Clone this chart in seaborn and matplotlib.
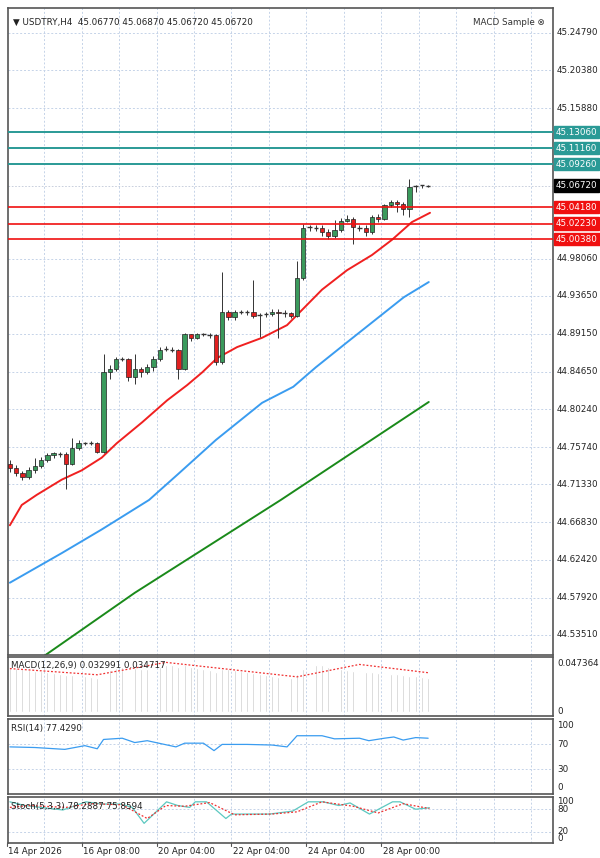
import numpy as np
import pandas as pd
import matplotlib
matplotlib.use('Agg')
import matplotlib.pyplot as plt
import seaborn as sns

# ---- data ----
first_open = 44.738
closes = [44.733, 44.727, 44.722, 44.730, 44.735, 44.742, 44.748, 44.750, 44.749, 44.738,
          44.757, 44.762, 44.762, 44.763, 44.752, 44.847, 44.850, 44.862, 44.862, 44.840,
          44.850, 44.846, 44.852, 44.862, 44.873, 44.874, 44.873, 44.850, 44.891, 44.887,
          44.891, 44.891, 44.890, 44.858, 44.918, 44.912, 44.918, 44.918, 44.917, 44.913,
          44.914, 44.915, 44.918, 44.916, 44.916, 44.913, 44.958, 45.017, 45.018, 45.017,
          45.012, 45.008, 45.015, 45.025, 45.028, 45.018, 45.017, 45.012, 45.030, 45.028,
          45.044, 45.048, 45.046, 45.040, 45.066, 45.067, 45.0675, 45.0672]
highs = [44.742, 44.736, 44.729, 44.734, 44.745, 44.746, 44.751, 44.752, 44.752, 44.752,
         44.768, 44.766, 44.764, 44.765, 44.764, 44.868, 44.855, 44.864, 44.864, 44.863,
         44.868, 44.852, 44.856, 44.866, 44.876, 44.877, 44.876, 44.874, 44.893, 44.892,
         44.893, 44.893, 44.893, 44.891, 44.965, 44.920, 44.920, 44.920, 44.920, 44.955,
         44.916, 44.918, 44.921, 44.921, 44.920, 44.917, 44.978, 45.022, 45.020, 45.020,
         45.020, 45.016, 45.027, 45.029, 45.032, 45.030, 45.020, 45.020, 45.032, 45.033,
         45.046, 45.050, 45.050, 45.048, 45.075, 45.068, 45.068, 45.068]
lows = [44.728, 44.723, 44.719, 44.720, 44.727, 44.733, 44.740, 44.745, 44.746, 44.708,
        44.736, 44.754, 44.760, 44.760, 44.750, 44.750, 44.838, 44.848, 44.860, 44.836,
        44.832, 44.840, 44.844, 44.848, 44.860, 44.871, 44.870, 44.838, 44.849, 44.883,
        44.885, 44.889, 44.887, 44.855, 44.856, 44.908, 44.908, 44.915, 44.914, 44.911,
        44.888, 44.912, 44.913, 44.887, 44.912, 44.910, 44.912, 44.956, 45.014, 45.013,
        45.008, 45.004, 45.005, 45.012, 45.024, 44.998, 45.014, 45.008, 45.010, 45.024,
        45.026, 45.042, 45.036, 45.032, 45.030, 45.060, 45.064, 45.066]

ma_red_i = [0, 1.9, 4.3, 8.3, 11.5, 14.7, 17.1, 21.2, 25.2, 28.4, 30.8, 33.2, 36.4, 40.4,
            44.4, 46.8, 50, 54, 58, 61.2, 64.4, 67.3]
ma_red_v = [44.665, 44.689, 44.701, 44.719, 44.730, 44.745, 44.762, 44.787, 44.813, 44.831,
            44.846, 44.863, 44.876, 44.887, 44.902, 44.920, 44.944, 44.967, 44.985, 45.003,
            45.024, 45.035]
ma_blue_i = [0, 8.3, 14.7, 22.3, 27, 33, 40.4, 45.4, 49, 53.9, 58.5, 63.1, 67.1]
ma_blue_v = [44.597, 44.632, 44.660, 44.695, 44.726, 44.766, 44.810, 44.829, 44.852, 44.881,
             44.908, 44.935, 44.953]
ma_green_i = [3.5, 20, 43.4, 67.1]
ma_green_v = [44.500, 44.585, 44.695, 44.811]

teal_levels = [45.1306, 45.1116, 45.0926]
red_levels = [45.0418, 45.0223, 45.0038]
last_price = 45.0672
price_ticks = [45.24790, 45.20380, 45.15880, 44.98060, 44.93650, 44.89150, 44.84650,
               44.80240, 44.75740, 44.71330, 44.66830, 44.62420, 44.57920, 44.53510]

macd_hist = [0.044, 0.043, 0.042, 0.041, 0.040, 0.040, 0.039, 0.038, 0.037, 0.036, 0.036,
             0.035, 0.035, 0.034, 0.033,
             0.038, 0.041, 0.043, 0.044, 0.043, 0.043, 0.042, 0.042, 0.043, 0.044, 0.045,
             0.045, 0.044,
             0.045, 0.044, 0.043, 0.042, 0.041, 0.039,
             0.042, 0.042, 0.041, 0.040, 0.039, 0.038, 0.037, 0.036, 0.035, 0.034, 0.034, 0.033,
             0.037, 0.042, 0.044, 0.045, 0.045, 0.044, 0.043, 0.042, 0.041, 0.040,
             0.040, 0.039, 0.039, 0.038, 0.038, 0.037, 0.037, 0.036, 0.035, 0.035, 0.034, 0.033]
macd_sig_i = [0, 14, 25, 46, 56, 67]
macd_sig_v = [0.042, 0.036, 0.048, 0.034, 0.046, 0.038]

rsi_i = [0, 4, 8.8, 12, 14, 15, 18, 20, 22, 26.6, 28, 31, 32.7, 34, 38, 42, 44.4, 46,
         50, 52, 56, 57.5, 60, 61.5, 63, 65, 67]
rsi_v = [66, 65, 62, 68, 63, 78, 80, 73, 76, 66, 72, 72, 60, 70, 70, 69, 66, 84,
         84, 79, 80, 76, 80, 82, 77, 81, 80]

stoch_i = [0, 2.4, 8.5, 12.2, 14.7, 17.7, 19.6, 21.5, 25.1, 26.9, 28.8, 29.7, 31.5, 34.6,
           35.5, 41.6, 45.3, 47.8, 50.2, 52.7, 54.5, 57.6, 61.3, 62.5, 65, 67.2]
stoch_v = [100, 90, 78, 100, 94, 94, 85, 42, 100, 90, 85, 100, 100, 55,
           67, 67, 75, 100, 100, 90, 97, 67, 100, 100, 80, 84]
stsig_i = [0, 3, 9, 13, 18, 22, 25, 28, 32, 36, 42, 46, 50, 55, 59, 63, 67.2]
stsig_v = [85, 90, 85, 95, 92, 55, 90, 88, 98, 65, 67, 73, 100, 88, 70, 95, 82]

date_labels = ["14 Apr 2026", "16 Apr 08:00", "20 Apr 04:00", "22 Apr 04:00",
               "24 Apr 04:00", "28 Apr 00:00"]

# ---- layout ----
sns.set_style("white")
plt.rcParams['font.family'] = ['DejaVu Sans']
W, H = 600, 858
fig = plt.figure(figsize=(6, 8.58), dpi=100)

def pax(x0, y0, x1, y1):
    ax = fig.add_axes([x0 / W, 1 - y1 / H, (x1 - x0) / W, (y1 - y0) / H])
    for s in ax.spines.values():
        s.set_color('#555555')
        s.set_linewidth(1.2)
    ax.set_xticks([])
    ax.set_yticks([])
    return ax

XL = (-0.3, 87.0)
grid_x = [-0.5 + 6 * k for k in range(1, 15)]
grid_kw = dict(color='#c5d3e8', lw=0.7, ls=(0, (2, 2)), zorder=0)
fs = 6.3

ax = pax(8, 8, 553, 655)
ax.set_xlim(*XL)
ax.set_ylim(44.5114, 45.2775)
for g in grid_x:
    ax.axvline(g, **grid_kw)
for p in price_ticks:
    ax.axhline(p, **grid_kw)
    fig.text(557 / W, ax.transData.transform((0, p))[1] / H, "%.5f" % p,
             fontsize=fs, va='center', ha='left', color='#222222')

df = pd.DataFrame({'c': closes, 'h': highs, 'l': lows})
df['o'] = [first_open] + closes[:-1]
df['i'] = np.arange(len(df))
ax.vlines(df['i'], df['l'], df['h'], color='#333333', lw=0.7, zorder=3)
for _, r in df.iterrows():
    up = r['c'] >= r['o']
    body = abs(r['c'] - r['o'])
    if body < 0.0012:
        ax.hlines(r['c'], r['i'] - 0.35, r['i'] + 0.35, color='#333333', lw=1.0, zorder=4)
    else:
        ax.bar(r['i'], body, bottom=min(r['o'], r['c']), width=0.7,
               color='#3a9a5c' if up else '#e02020', edgecolor='#222222', lw=0.5, zorder=4)

sns.lineplot(x=ma_red_i, y=ma_red_v, ax=ax, color='#f02020', lw=1.4, zorder=2)
sns.lineplot(x=ma_blue_i, y=ma_blue_v, ax=ax, color='#3a9cf0', lw=1.4, zorder=2)
sns.lineplot(x=ma_green_i, y=ma_green_v, ax=ax, color='#1a8a1a', lw=1.4, zorder=2)

def tag(p, fc, tc='white'):
    y = ax.transData.transform((0, p))[1] / H
    fig.text(556 / W, y, "%.5f" % p, fontsize=fs, va='center', ha='left', color=tc,
             bbox=dict(boxstyle='square,pad=0.2', fc=fc, ec=fc))

for p in teal_levels:
    ax.axhline(p, color='#2a9a96', lw=1.4, zorder=5)
    tag(p, '#2a9a96')
for p in red_levels:
    ax.axhline(p, color='#f01010', lw=1.2, zorder=5)
    tag(p, '#f01010')
ax.axhline(last_price, color='#c0c8d8', lw=0.6, ls=(0, (2, 2)), zorder=1)
tag(last_price, 'black')

ax.text(0.01, 0.985, "\u25BC USDTRY,H4  45.06770 45.06870 45.06720 45.06720", transform=ax.transAxes,
        fontsize=fs, va='top', ha='left', color='#222222')
ax.text(0.985, 0.985, "MACD Sample \u2297", transform=ax.transAxes, fontsize=fs,
        va='top', ha='right', color='#333333')

# MACD
ax2 = pax(8, 657, 553, 716)
ax2.set_xlim(*XL)
ax2.set_ylim(-0.0039, 0.0532)
for g in grid_x:
    ax2.axvline(g, **grid_kw)
ax2.bar(np.arange(len(macd_hist)), macd_hist, width=0.3, color='#c8c8c8', zorder=2)
sns.lineplot(x=macd_sig_i, y=macd_sig_v, ax=ax2, color='#f03030', lw=0.9,
             ls=(0, (1.5, 1.5)), zorder=3)
ax2.text(0.005, 0.93, "MACD(12,26,9) 0.032991 0.034717", transform=ax2.transAxes,
         fontsize=fs, va='top', ha='left', color='#222222')
for v, t in [(0.047364, "0.047364"), (0, "0")]:
    fig.text(557 / W, ax2.transData.transform((0, v))[1] / H, t, fontsize=fs,
             va='center', ha='left', color='#222222')

# RSI
ax3 = pax(8, 719, 553, 794)
ax3.set_xlim(*XL)
ax3.set_ylim(-10, 111)
for g in grid_x:
    ax3.axvline(g, **grid_kw)
for v in [70, 30]:
    ax3.axhline(v, **grid_kw)
sns.lineplot(x=rsi_i, y=rsi_v, ax=ax3, color='#3a9cf0', lw=0.9)
ax3.text(0.005, 0.93, "RSI(14) 77.4290", transform=ax3.transAxes, fontsize=fs,
         va='top', ha='left', color='#222222')
for v in [100, 70, 30, 0]:
    fig.text(557 / W, ax3.transData.transform((0, v))[1] / H, str(v), fontsize=fs,
             va='center', ha='left', color='#222222')

# Stochastic
ax4 = pax(8, 797, 553, 843)
ax4.set_xlim(*XL)
ax4.set_ylim(-11, 113)
for g in grid_x:
    ax4.axvline(g, **grid_kw)
for v in [80, 20]:
    ax4.axhline(v, **grid_kw)
sns.lineplot(x=stoch_i, y=stoch_v, ax=ax4, color='#5cc8c0', lw=0.9)
sns.lineplot(x=stsig_i, y=stsig_v, ax=ax4, color='#f03030', lw=0.9, ls=(0, (1.5, 1.5)))
ax4.text(0.005, 0.9, "Stoch(5,3,3) 78.2887 75.8594", transform=ax4.transAxes, fontsize=fs,
         va='top', ha='left', color='#222222')
for v, t in [(100, "100"), (80, "80"), (20, "20"), (0, "0")]:
    fig.text(557 / W, ax4.transData.transform((0, v))[1] / H, t, fontsize=fs,
             va='center', ha='left', color='#222222')

# date axis
for k, lab in enumerate(date_labels):
    x = ax4.transData.transform((-0.5 + 12 * k, 0))[0] / W
    fig.text(x + 0.002, 1 - 852 / H, lab, fontsize=fs, va='center', ha='left', color='#222222')
    fig.add_artist(plt.Line2D([x, x], [1 - 843 / H, 1 - 846 / H], color='#555555', lw=0.8))

fig.savefig("out.png", dpi=100)
